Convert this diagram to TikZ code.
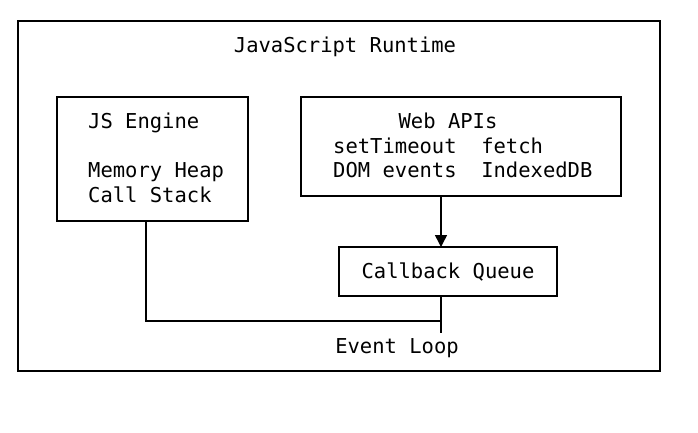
\documentclass[tikz,border=0pt]{standalone}
\usepackage{fontspec}
\setmonofont{DejaVu Sans Mono}
\usetikzlibrary{arrows.meta}
\tikzset{
  box/.style={draw, line width=1.5pt},
  txt/.style={font=\ttfamily\fontsize{20.5}{24}\selectfont, inner sep=0pt, anchor=base west},
  wire/.style={line width=1.5pt}
}
\begin{document}
\begin{tikzpicture}[x=1pt,y=-1pt]
\useasboundingbox (0,0) rectangle (698,432);
% outer frame
\draw[box] (18,21) rectangle (660,371);
\node[txt, anchor=base] (title) at (345,52) {JavaScript Runtime};
% engine
\draw[box] (57,97) rectangle (248,221);
\node[txt] (eng) at (88,128) {JS Engine};
\node[txt] (heap) at (88,177) {Memory Heap};
\node[txt] (stack) at (88,202) {Call Stack};
% web apis
\draw[box] (301,97) rectangle (621,196);
\node[txt, anchor=base] (web) at (448,128) {Web APIs};
\node[txt] (api1) at (333,153) {setTimeout\ \ fetch};
\node[txt] (api2) at (333,177) {DOM events\ \ IndexedDB};
% callback queue
\draw[box] (339,247) rectangle (557,296);
\node[txt, anchor=base] (queue) at (448,278) {Callback Queue};
\coordinate (apibot) at (441,196);
\coordinate (qtop) at (441,247);
\draw[wire, -{Triangle[length=12pt,width=12pt]}] (apibot) -- (qtop);
% event loop
\coordinate (engbot) at (146,221);
\coordinate (qbot) at (441,296);
\coordinate (loopend) at (441,333);
\draw[wire] (engbot) -- (146,321) -- (441,321);
\draw[wire] (qbot) -- (loopend);
\node[txt, anchor=base] (loop) at (397,353) {Event Loop};
\end{tikzpicture}
\end{document}
